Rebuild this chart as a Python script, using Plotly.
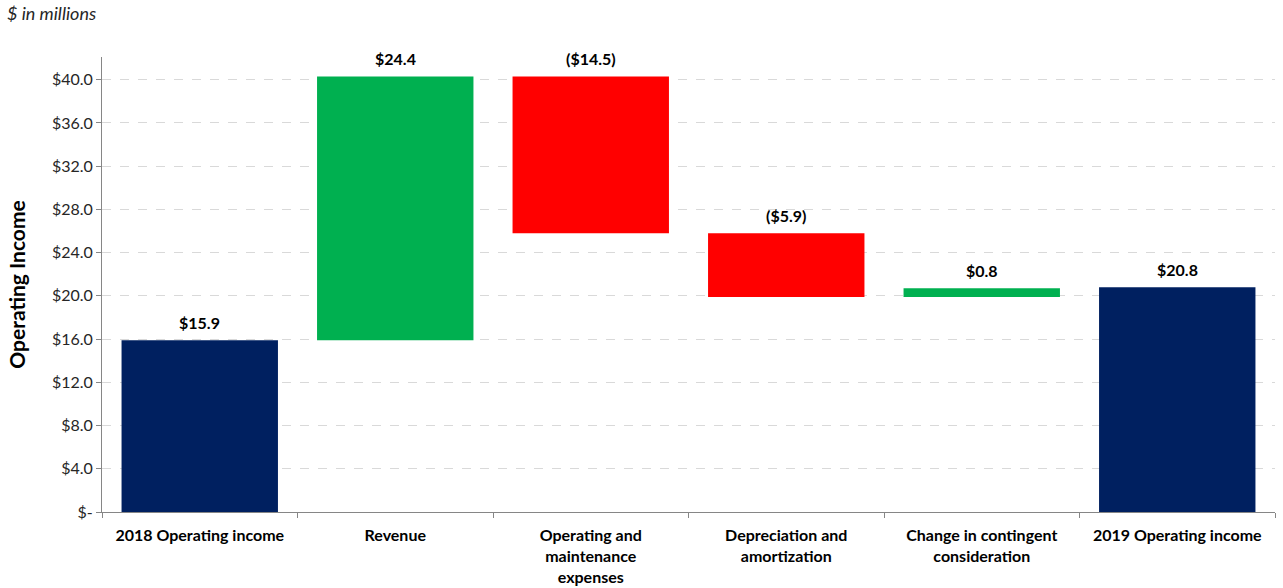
import plotly.graph_objects as go

categories = ["2018 Operating income", "Revenue", "Operating and<br>maintenance<br>expenses",
              "Depreciation and<br>amortization", "Change in contingent<br>consideration",
              "2019 Operating income"]
values = [15.9, 24.4, -14.5, -5.9, 0.8, 20.8]
measures = ["absolute", "relative", "relative", "relative", "relative", "absolute"]
labels = ["$15.9", "$24.4", "($14.5)", "($5.9)", "$0.8", "$20.8"]
ytick_vals = [0, 4, 8, 12, 16, 20, 24, 28, 32, 36, 40]
ytick_text = ["$-", "$4.0", "$8.0", "$12.0", "$16.0", "$20.0", "$24.0", "$28.0", "$32.0", "$36.0", "$40.0"]

FONT = "Lato, Carlito, Calibri, sans-serif"

fig = go.Figure(go.Waterfall(
    x=categories, y=values, measure=measures,
    increasing=dict(marker=dict(color="#00B050")),
    decreasing=dict(marker=dict(color="#FF0000")),
    totals=dict(marker=dict(color="#002060")),
    connector=dict(visible=False),
    width=0.8,
    hoverinfo="x+y",
))

# label positions at the top of each bar, from running totals
tops = []
running = 0.0
for v, m in zip(values, measures):
    if m == "absolute":
        start, end = 0.0, v
        running = v
    else:
        start, end = running, running + v
        running = end
    tops.append(max(start, end))

for c, t, lab in zip(categories, tops, labels):
    fig.add_annotation(x=c, y=t, text="<b>" + lab + "</b>", showarrow=False,
                       yanchor="middle", yshift=18,
                       font=dict(family=FONT, size=16, color="#000000"))

fig.add_annotation(xref="paper", yref="paper", x=-0.0827, y=1.0967, xanchor="left", yanchor="middle",
                   text="<i>$ in millions</i>", showarrow=False,
                   font=dict(family=FONT, size=18, color="#262626"))

fig.update_layout(
    width=1283, height=588,
    margin=dict(l=102, r=8, t=57, b=76),
    paper_bgcolor="white", plot_bgcolor="white",
    showlegend=False,
    font=dict(family=FONT, color="#000000"),
    xaxis=dict(
        automargin=False,
        showline=True, linecolor="#868686", linewidth=1,
        ticks="outside", tickson="boundaries", ticklen=5, tickcolor="#868686",
        ticklabelstandoff=9,
        tickfont=dict(family=FONT, size=16, color="#000000", weight="bold"),
        showgrid=False,
    ),
    yaxis=dict(
        automargin=False,
        range=[0, 42.1],
        tickvals=ytick_vals, ticktext=ytick_text,
        showline=True, linecolor="#868686", linewidth=1,
        ticks="outside", ticklen=5, tickcolor="#868686",
        tickfont=dict(family=FONT, size=16, color="#262626"),
        showgrid=True, gridcolor="#D9D9D9", griddash="dash", gridwidth=1,
        zeroline=False,
        title=dict(text="<b>Operating Income</b>", font=dict(family=FONT, size=21, color="#000000"), standoff=20),
    ),
)

fig.write_html("out.html", config={"displayModeBar": False},
               post_script="document.body.style.margin='0';")
